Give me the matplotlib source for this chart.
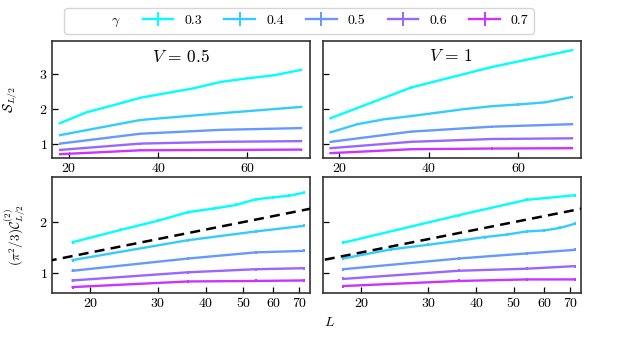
import numpy as np
import matplotlib
matplotlib.use("Agg")
import matplotlib.pyplot as plt
from matplotlib.lines import Line2D

plt.rcParams.update({
    "font.family": "serif",
    "font.serif": ["cmr10"],
    "mathtext.fontset": "cm",
    "axes.formatter.use_mathtext": True,
    "font.size": 10,
})

# ---------------- data ----------------
gammas = ["0.3", "0.4", "0.5", "0.6", "0.7"]
L_full = [18, 24, 30, 36, 42, 48, 54, 60, 66, 72]
L_nine = [18, 24, 30, 36, 48, 54, 60, 66, 72]
L_four = [18, 36, 54, 72]

# Top-left: V = 0.5, entanglement entropy S_{L/2}
S_V05_L = [L_nine, L_four, L_four, L_four, L_four]
S_V05 = [
    [1.60, 1.91, 2.11, 2.32, 2.59, 2.77, 2.87, 2.96, 3.11],
    [1.26, 1.69, 1.88, 2.06],
    [1.02, 1.30, 1.41, 1.46],
    [0.84, 1.02, 1.07, 1.09],
    [0.72, 0.83, 0.84, 0.85],
]
# Top-right: V = 1
S_V1_L = [L_four, L_nine, L_four, L_four, L_four]
S_V1 = [
    [1.74, 2.61, 3.19, 3.67],
    [1.34, 1.57, 1.71, 1.80, 2.00, 2.08, 2.13, 2.19, 2.34],
    [1.07, 1.36, 1.50, 1.57],
    [0.89, 1.07, 1.15, 1.17],
    [0.75, 0.86, 0.88, 0.89],
]
# Bottom-left: V = 0.5, (pi^2/3) C^(2)_{L/2}
C_V05_L = [L_full, L_four, L_four, L_four, L_four]
C_V05 = [
    [1.61, 1.85, 2.03, 2.20, 2.27, 2.34, 2.45, 2.49, 2.52, 2.58],
    [1.26, 1.65, 1.82, 1.93],
    [1.05, 1.29, 1.41, 1.44],
    [0.86, 1.02, 1.08, 1.10],
    [0.73, 0.84, 0.85, 0.86],
]
# Bottom-right: V = 1
C_V1_L = [L_four, L_full, L_four, L_four, L_four]
C_V1 = [
    [1.60, 2.14, 2.44, 2.53],
    [1.29, 1.47, 1.56, 1.64, 1.71, 1.76, 1.82, 1.84, 1.89, 1.97],
    [1.08, 1.29, 1.39, 1.46],
    [0.89, 1.05, 1.09, 1.14],
    [0.75, 0.85, 0.88, 0.88],
]
err = 0.03

# dashed reference line y = a ln L + b
dash_slope = 0.65
dash_intercept = -0.54

top_xticks = [20, 40, 60]
bot_xticks = [20, 30, 40, 50, 60, 70]
top_yticks = [1, 2, 3]
bot_yticks = [1, 2]
panel_titles = [r"$V\,=\,0.5$", r"$V\,=\,1$"]

# ---------------- figure ----------------
fig = plt.figure(figsize=(6.23, 3.41), dpi=100)
W, H = 623, 341

def add_ax(x0, x1, y0, y1):
    return fig.add_axes([x0 / W, 1 - y1 / H, (x1 - x0) / W, (y1 - y0) / H])

ax_tl = add_ax(52, 309.5, 41, 157.7)
ax_tr = add_ax(322.5, 580.5, 41, 157.7)
ax_bl = add_ax(52, 309.5, 176.7, 293.3)
ax_br = add_ax(322.5, 580.5, 176.7, 293.3)

colors = plt.cm.cool(np.linspace(0, 0.8, 5))
spine_col = "#333333"

def draw(ax, Ls, Ys):
    handles = []
    for i in range(5):
        h = ax.errorbar(Ls[i], Ys[i], yerr=err, color=colors[i], lw=1.7,
                        elinewidth=1.4, capsize=0, label=gammas[i])
        handles.append(h)
    return handles

handles = draw(ax_tl, S_V05_L, S_V05)
draw(ax_tr, S_V1_L, S_V1)
draw(ax_bl, C_V05_L, C_V05)
draw(ax_br, C_V1_L, C_V1)

Ld = np.geomspace(10, 100, 50)
for ax in (ax_bl, ax_br):
    ax.plot(Ld, dash_slope * np.log(Ld) + dash_intercept, ls=(0, (4, 2.5)),
            color="black", lw=1.8, zorder=5)

for ax in (ax_tl, ax_tr):
    ax.set_xlim(16.2, 73.9)
    ax.set_ylim(0.62, 3.93)
    ax.set_xticks(top_xticks)
    ax.set_yticks(top_yticks)

for ax in (ax_bl, ax_br):
    ax.set_xscale("log")
    ax.set_xlim(15.9, 74.6)
    ax.set_ylim(0.608, 2.894)
    ax.set_xticks(bot_xticks)
    ax.set_xticklabels([str(t) for t in bot_xticks])
    ax.xaxis.set_minor_locator(matplotlib.ticker.NullLocator())
    ax.set_yticks(bot_yticks)

for ax in (ax_tr, ax_br):
    ax.set_yticklabels([])

for ax in (ax_tl, ax_tr, ax_bl, ax_br):
    ax.tick_params(direction="in", length=4, width=0.9, colors="black",
                   labelsize=10, pad=3)
    for s in ax.spines.values():
        s.set_color(spine_col)
        s.set_linewidth(1.2)

ax_tl.text(0.5, 0.87, panel_titles[0], transform=ax_tl.transAxes,
           ha="center", va="center", fontsize=12.5)
ax_tr.text(0.5, 0.87, panel_titles[1], transform=ax_tr.transAxes,
           ha="center", va="center", fontsize=12.5)

ax_tl.set_ylabel(r"$\mathcal{S}_{L/2}$", fontsize=10)
ax_tl.yaxis.set_label_coords(-0.125, 0.5)
ax_bl.set_ylabel(r"$(\pi^2/3)\mathcal{C}^{(2)}_{L/2}$", fontsize=9.5)
ax_bl.yaxis.set_label_coords(-0.092, 0.5)

fig.text(330 / W, 1 - 323 / H, "$L$", ha="center", va="center", fontsize=10)

blank = Line2D([], [], color="none")
leg = fig.legend([blank] + handles, [r"$\gamma$"] + gammas, loc="center",
                 bbox_to_anchor=(299 / W, 1 - 21.3 / H), ncol=6,
                 fontsize=10, frameon=True, handlelength=2.2,
                 columnspacing=1.6, handletextpad=0.8, borderpad=0.4)
leg.get_frame().set_edgecolor("0.8")

fig.savefig("out.png", dpi=100)
